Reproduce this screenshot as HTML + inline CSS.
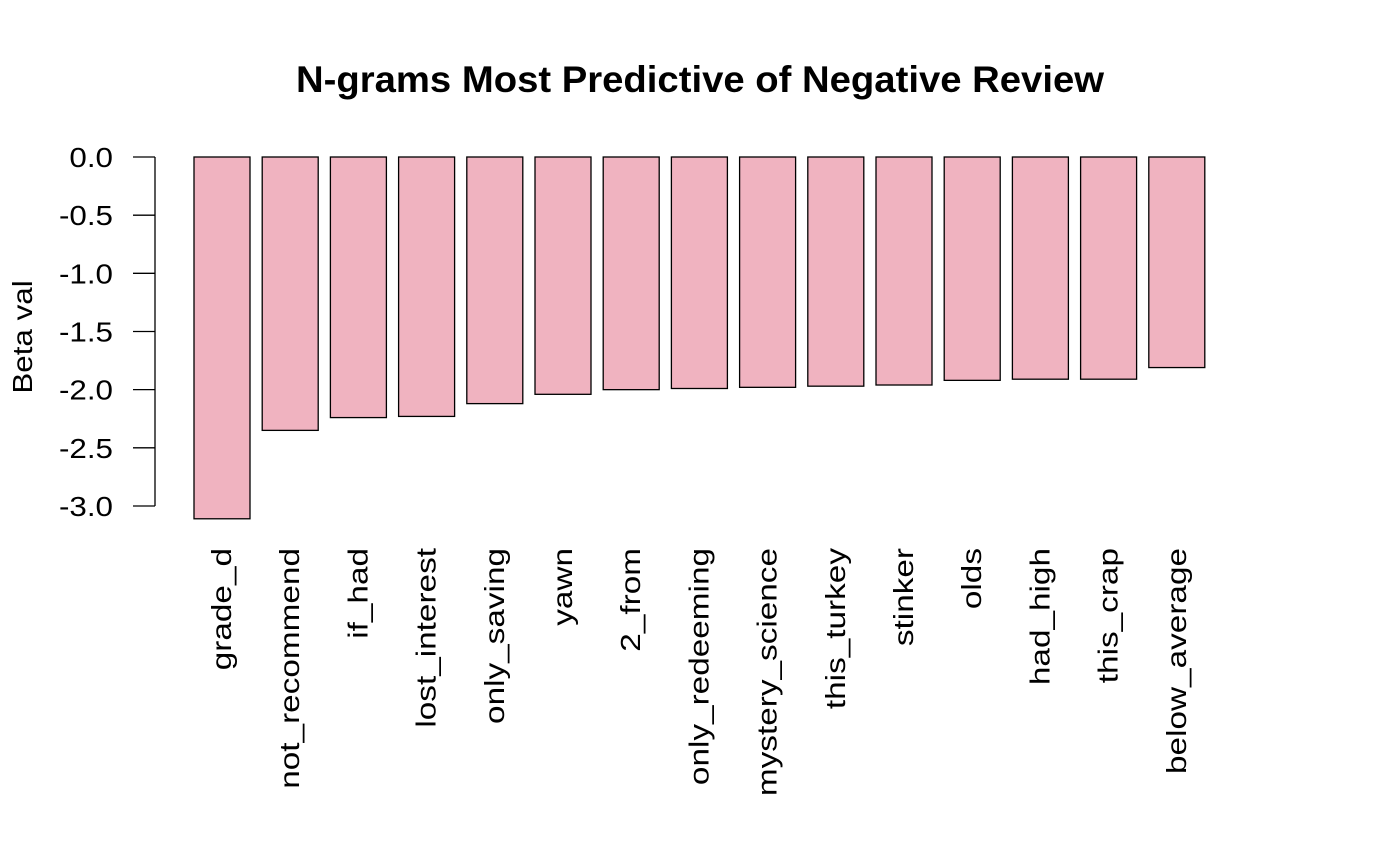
<!DOCTYPE html>
<html><head><meta charset="utf-8"><style>
body{margin:0;background:#fff;}
svg{display:block;font-family:"Liberation Sans",Arial,sans-serif;}
</style></head><body>
<svg id="chart" width="1400" height="865">
<text id="title" x="700" y="92" text-anchor="middle" font-size="37" font-weight="bold">N-grams Most Predictive of Negative Review</text>
<text class="wide" transform="translate(32,337) rotate(-90)" text-anchor="middle" font-size="28">Beta val</text>
<g id="yaxis"></g>
<g id="bars"></g>
<g id="xlabels"></g>
</svg>
<script>
const categories=["grade_d","not_recommend","if_had","lost_interest","only_saving","yawn","2_from","only_redeeming","mystery_science","this_turkey","stinker","olds","had_high","this_crap","below_average"];
const values=[-3.11,-2.35,-2.24,-2.23,-2.12,-2.04,-2.0,-1.99,-1.98,-1.97,-1.96,-1.92,-1.91,-1.91,-1.81];
const yTicks=[0,-0.5,-1,-1.5,-2,-2.5,-3];
const yTickLabels=["0.0","-0.5","-1.0","-1.5","-2.0","-2.5","-3.0"];
const NS="http://www.w3.org/2000/svg";
function y(v){return 157+(-v)*116.33;}
function x(i){return 194+i*68.2;}
const bw=56;
function mk(t,a,p){const e=document.createElementNS(NS,t);for(const k in a)e.setAttribute(k,a[k]);p.appendChild(e);return e;}
const ya=document.getElementById('yaxis');
const l=mk('line',{x1:155,x2:155,y1:y(yTicks[0]),y2:y(yTicks[yTicks.length-1]),stroke:'#000','stroke-width':1.3},ya);


yTicks.forEach((t,i)=>{
 const tk=mk('line',{x1:133,x2:155,y1:y(t),y2:y(t),stroke:'#000','stroke-width':1.3},ya);
 
 
 const tx=mk('text',{x:113,y:y(t)+10,'text-anchor':'end','font-size':28,'class':'wide'},ya);
 tx.textContent=yTickLabels[i];
 
 
});
const bg=document.getElementById('bars'),xl=document.getElementById('xlabels');
values.forEach((v,i)=>{
 const r=mk('rect',{x:x(i),y:y(0),width:bw,height:y(v)-y(0),fill:'#f0b3c0',stroke:'#000','stroke-width':1.3},bg);
 
 
 const cx=x(i)+bw/2+9;
 const t=mk('text',{transform:`translate(${cx},548) rotate(-90)`,'text-anchor':'end','font-size':28,'class':'wide xl'},xl);
 t.textContent=categories[i];
 
 
});
document.querySelectorAll('.wide').forEach(t=>{
 const w=t.getComputedTextLength();
 const f=t.classList.contains('xl')?1.19:1.12;
 t.setAttribute('textLength',w*f);
 t.setAttribute('lengthAdjust','spacingAndGlyphs');
});
const ti=document.getElementById('title');
ti.setAttribute('textLength',808);
ti.setAttribute('lengthAdjust','spacingAndGlyphs');
</script>
</body></html>
